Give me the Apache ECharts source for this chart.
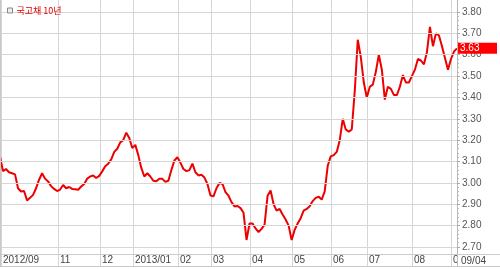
<!DOCTYPE html>
<html><head><meta charset="utf-8">
<script src="https://cdn.jsdelivr.net/npm/echarts@6/dist/echarts.min.js"></script>
<style>html,body{margin:0;padding:0;background:#fff}#c{width:500px;height:269px}</style>
</head><body><div id="c"></div>
<script>
const seriesName = '국고채 10년';
const yields = [
 3.124,3.055,3.065,3.05,3.045,3.04,2.975,2.96,2.962,2.918,
 2.93,2.944,2.975,3.015,3.045,3.02,3.007,2.985,2.972,2.962,
 2.969,2.99,2.975,2.981,2.972,2.97,2.968,2.983,2.995,3.02,
 3.03,3.035,3.023,3.033,3.054,3.078,3.09,3.11,3.145,3.16,
 3.19,3.2,3.235,3.21,3.163,3.178,3.13,3.07,3.03,3.045,
 3.03,3.01,3.008,3.02,3.019,3.005,3.01,3.06,3.105,3.12,
 3.095,3.065,3.055,3.06,3.09,3.05,3.035,3.038,3.025,2.995,
 2.941,2.937,2.975,3.0,2.995,2.957,2.94,2.91,2.89,2.892,
 2.882,2.86,2.733,2.81,2.81,2.787,2.77,2.785,2.805,2.94,
 2.965,2.9,2.87,2.878,2.852,2.829,2.80,2.733,2.78,2.81,
 2.835,2.87,2.878,2.891,2.915,2.93,2.935,2.922,2.96,3.08,
 3.124,3.13,3.145,3.2,3.30,3.25,3.24,3.25,3.43,3.67,
 3.59,3.47,3.40,3.45,3.46,3.52,3.60,3.53,3.39,3.45,
 3.44,3.412,3.411,3.45,3.505,3.47,3.47,3.50,3.53,3.58,
 3.573,3.555,3.612,3.73,3.64,3.70,3.69,3.64,3.585,3.53,
 3.58,3.615,3.63
];
const monthLabels = ['2012/09','11','12','2013/01','02','03','04','05','06','07','08','09'];
const monthStartIndex = [0,19,33,44,59,70,83,97,110,122,137,150];
const yMin = 2.7, yMax = 3.8, yStep = 0.1;
const lastDateLabel = '09/04';

const categories = yields.map((v, i) => String(i));
const labelAt = {};
monthStartIndex.forEach((idx, k) => { labelAt[idx] = monthLabels[k]; });
const isMonth = (idx) => labelAt[idx] !== undefined;
const lastValue = yields[yields.length - 1];

const FONT = "'Liberation Sans Narrow', 'Liberation Sans', Arial, sans-serif";
const GRID_C = '#d6d6d6';

const chart = echarts.init(document.getElementById('c'), null, {renderer: 'canvas'});
chart.setOption({
  animation: false,
  backgroundColor: '#ffffff',
  legend: {
    left: 2, top: 1, itemWidth: 5, itemHeight: 5, itemGap: 4,
    icon: 'rect',
    data: [{name: seriesName, itemStyle: {color: '#eeeeee', borderColor: '#888888', borderWidth: 1}}],
    textStyle: {color: '#e00000', fontSize: 9, fontFamily: "'Noto Sans CJK KR', sans-serif", padding: [0,0,0,-1]}
  },
  grid: [
    {left: 0, top: 0, width: 457, height: 266, containLabel: false},
    {left: 0, top: 12, width: 457, height: 235, containLabel: false}
  ],
  xAxis: [
    {
      gridIndex: 0, type: 'category', data: categories, boundaryGap: false,
      axisLine: {show: true, lineStyle: {color: '#c8c8c8'}},
      axisTick: {show: false},
      axisLabel: {
        show: true, inside: true, margin: 1, align: 'left',
        interval: (idx) => isMonth(idx),
        formatter: (v, idx) => labelAt[idx] || '',
        color: '#444', fontSize: 10, fontFamily: FONT, padding: [0,0,0,2]
      },
      splitLine: {show: true, interval: (idx) => isMonth(idx), lineStyle: {color: GRID_C, width: 1}}
    },
    {
      gridIndex: 1, type: 'category', data: categories, boundaryGap: false, show: false
    }
  ],
  yAxis: [
    {
      gridIndex: 0, type: 'value', position: 'right', min: 0, max: 1, z: 3,
      axisLine: {show: true, lineStyle: {color: '#b8b8b8'}},
      axisTick: {show: false}, axisLabel: {show: false}, splitLine: {show: false}
    },
    {
      gridIndex: 1, type: 'value', position: 'right', min: yMin, max: yMax, interval: yStep, z: 3,
      axisLine: {show: false},
      axisTick: {show: true, length: 3, lineStyle: {color: '#aaaaaa'}},
      minorTick: {show: true, splitNumber: 5, length: 2, lineStyle: {color: '#bbbbbb'}},
      axisLabel: {margin: 5, color: '#555', fontSize: 10, fontFamily: FONT, formatter: (v) => v.toFixed(2)},
      splitLine: {show: true, lineStyle: {color: GRID_C, width: 1}}
    }
  ],
  series: [{
    name: seriesName, type: 'line', xAxisIndex: 1, yAxisIndex: 1,
    data: yields, showSymbol: false, symbol: 'none', smooth: false,
    lineStyle: {color: '#ee0000', width: 2}, itemStyle: {color: '#ee0000'},
    z: 2,
    markLine: {
      silent: true, symbol: 'none', animation: false,
      lineStyle: {color: 'rgba(0,0,0,0)', width: 0},
      label: {
        show: true, position: 'end', distance: 1,
        formatter: () => lastValue.toFixed(2),
        backgroundColor: '#ff0000', color: '#ffffff', width: 35,
        padding: [1, 2, 0, 2], fontSize: 10, fontFamily: FONT, align: 'left'
      },
      data: [{yAxis: lastValue}]
    }
  }],
  graphic: [
    {type: 'rect', z: 1, shape: {x: 457.5, y: 0, width: 43, height: 266}, style: {fill: '#ffffff'}},
    {type: 'line', z: 4, shape: {x1: 0, y1: 254.5, x2: 500, y2: 254.5}, style: {stroke: '#cccccc', lineWidth: 1}},
    {type: 'line', z: 4, shape: {x1: 0, y1: 266.5, x2: 500, y2: 266.5}, style: {stroke: '#c8c8c8', lineWidth: 1}},
    {type: 'line', z: 4, shape: {x1: 0.5, y1: 0, x2: 0.5, y2: 267}, style: {stroke: '#c8c8c8', lineWidth: 1}},
    {type: 'text', z: 4, x: 461, y: 261, style: {text: lastDateLabel, fill: '#444', font: '10px ' + FONT, verticalAlign: 'middle'}}
  ]
});
</script></body></html>
